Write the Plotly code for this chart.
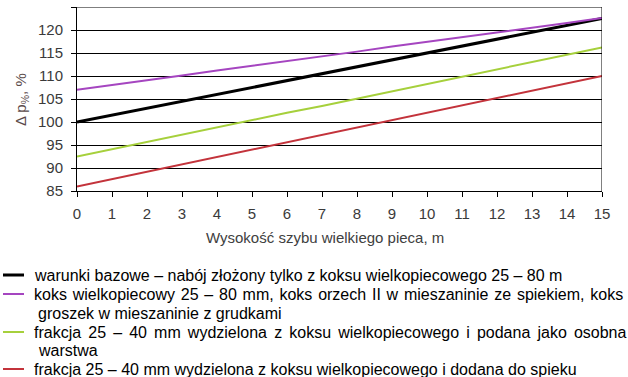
import plotly.graph_objects as go

x_m = list(range(16))
black_base = [100, 101.5, 103, 104.5, 106, 107.5, 109, 110.5, 112, 113.5, 115, 116.5, 118, 119.5, 121, 122.5]
purple_mix = [107, 108, 109.1, 110.1, 111.2, 112.2, 113.2, 114.3, 115.3, 116.4, 117.4, 118.4, 119.5, 120.5, 121.5, 122.6]
green_layer = [92.5, 94.1, 95.7, 97.2, 98.8, 100.4, 102, 103.5, 105.1, 106.7, 108.3, 109.8, 111.4, 113, 114.6, 116.2]
red_sinter = [86, 87.6, 89.2, 90.8, 92.4, 94, 95.6, 97.2, 98.8, 100.4, 102, 103.6, 105.2, 106.8, 108.4, 110]

y_ticks = [85, 90, 95, 100, 105, 110, 115, 120, 125]
x_ticks = list(range(16))

legend_lines = [
    ["warunki bazowe – nabój złożony tylko z koksu wielkopiecowego 25 – 80 m"],
    ["koks wielkopiecowy 25 – 80 mm, koks orzech II w mieszaninie ze spiekiem, koks",
     "groszek w mieszaninie z grudkami"],
    ["frakcja 25 – 40 mm wydzielona z koksu wielkopiecowego i podana jako osobna",
     "warstwa"],
    ["frakcja 25 – 40 mm wydzielona z koksu wielkopiecowego i dodana do spieku"],
]
justify_space = [None, "\u200a", "\u200a\u200a", None]
colors = ["#000000", "#a545c0", "#a6d03c", "#c3333b"]
widths = [3, 2, 2, 2]
series = [black_base, purple_mix, green_layer, red_sinter]

W, H = 628, 377
ml, mr, mt, mb = 77, 26, 7, 186

fig = go.Figure()
for s, c, w in zip(series, colors, widths):
    fig.add_trace(go.Scatter(x=x_m, y=s, mode="lines", line=dict(color=c, width=w),
                             showlegend=False))

font_fam = "Liberation Sans, Arial, sans-serif"
fig.update_layout(
    width=W, height=H,
    margin=dict(l=ml, r=mr, t=mt, b=mb),
    paper_bgcolor="white", plot_bgcolor="white",
    font=dict(family=font_fam, size=14, color="#404040"),
    xaxis=dict(range=[0, 15], tickvals=x_ticks, showgrid=False, zeroline=False,
               showline=True, linecolor="black", linewidth=1, mirror=False,
               ticks="outside", ticklen=5, tickcolor="black", ticklabelstandoff=4,
               tickfont=dict(size=15, color="#3a3a3a")),
    yaxis=dict(range=[85, 125], tickvals=y_ticks, showgrid=True, gridcolor="black",
               gridwidth=1, zeroline=False, showline=True, linecolor="black",
               linewidth=1, ticks="outside", ticklen=5, tickcolor="black",
               ticklabelstandoff=5, tickfont=dict(size=15, color="#3a3a3a")),
)
# right border and top line
fig.add_shape(type="line", xref="x", yref="paper", x0=15, x1=15, y0=0, y1=1,
              line=dict(color="black", width=1))
fig.add_shape(type="line", xref="x", yref="y", x0=0, x1=15, y0=125, y1=125,
              line=dict(color="black", width=1))

def py(p):  # pixel y (from top) -> paper coordinate
    ph = H - mt - mb
    return (H - mb - p) / ph

def px(p):
    pw = W - ml - mr
    return (p - ml) / pw

fig.add_annotation(text="Wysokość szybu wielkiego pieca, m", xref="paper", yref="paper",
                   x=px(325), y=py(237), showarrow=False, xanchor="center", yanchor="middle",
                   font=dict(size=15, color="#404040"))
fig.add_annotation(text="Δ p<sub>%</sub>, %", xref="paper", yref="paper",
                   x=px(21), y=py(99), showarrow=False, textangle=-90,
                   xanchor="center", yanchor="middle", font=dict(size=15, color="#5a4a4a"))

row_y = [275, 294, 313, 332, 350, 369]
ri = 0
for lines, c, w, js in zip(legend_lines, colors, widths, justify_space):
    fig.add_shape(type="line", xref="paper", yref="paper", x0=px(3), x1=px(24),
                  y0=py(row_y[ri]), y1=py(row_y[ri]), line=dict(color=c, width=w))
    for k, ln in enumerate(lines):
        txt = ln
        if js and k < len(lines) - 1:
            txt = ln.replace(" ", " " + js)
        fig.add_annotation(text=txt, xref="paper", yref="paper",
                           x=px(32 if k == 0 else 36), y=py(row_y[ri]),
                           showarrow=False, xanchor="left", yanchor="middle", align="left",
                           font=dict(size=16, color="black", family=font_fam))
        ri += 1

fig.write_html("out.html", post_script="document.body.style.margin='0';",
               config={"displayModeBar": False})
